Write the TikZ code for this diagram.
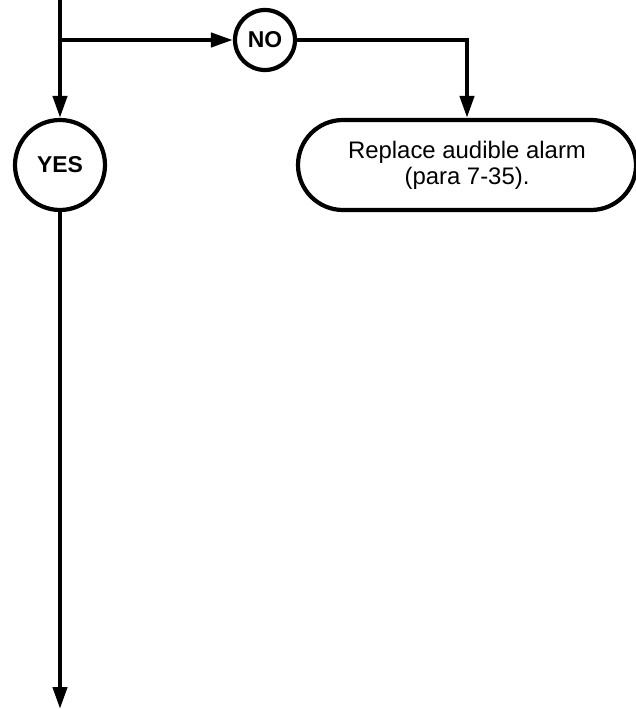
\documentclass[tikz,border=0pt]{standalone}
\usepackage{fontspec}
\setmainfont{Liberation Sans}
\usetikzlibrary{arrows.meta,positioning}
\tikzset{
  decision/.style={draw, circle, line width=4.2bp, inner sep=0pt,
    font=\bfseries\fontsize{23}{27}\selectfont},
  action/.style={draw, rounded corners=45bp, line width=4.2bp, align=center,
    minimum width=338bp, minimum height=90bp, font=\fontsize{24}{26}\selectfont},
  arrow/.style={-{Triangle[length=22bp, width=14bp]}, line width=4.2bp}
}

\begin{document}
\begin{tikzpicture}[x=1bp, y=-1bp]
  \useasboundingbox (0,0) rectangle (636,709);

  \coordinate (top) at (60,0);
  \coordinate (split) at (60,40);
  \coordinate (bottom) at (60,709);

  \node[decision, minimum size=60bp] (no) at (265,40) {NO};
  \node[decision, minimum size=90bp] (yes) at (60,165) {YES};
  \node[action] (replace) at (467,165) {Replace audible alarm\\(para 7-35).};

  \draw[arrow] (top) -- (yes.north);
  \draw[arrow] (split) -- (no.west);
  \draw[arrow] (no.east) -| (replace.north);
  \draw[arrow] (yes.south) -- (bottom);
\end{tikzpicture}
\end{document}
